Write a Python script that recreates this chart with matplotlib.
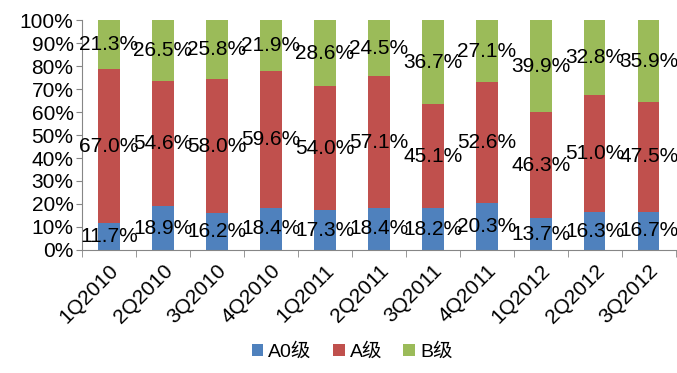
import numpy as np
import matplotlib.pyplot as plt

plt.rcParams['font.family'] = ['Liberation Sans', 'Noto Sans CJK SC', 'DejaVu Sans']

quarters = ['1Q2010', '2Q2010', '3Q2010', '4Q2010', '1Q2011', '2Q2011',
            '3Q2011', '4Q2011', '1Q2012', '2Q2012', '3Q2012']
a0 = [11.7, 18.9, 16.2, 18.4, 17.3, 18.4, 18.2, 20.3, 13.7, 16.3, 16.7]
a = [67.0, 54.6, 58.0, 59.6, 54.0, 57.1, 45.1, 52.6, 46.3, 51.0, 47.5]
b = [21.3, 26.5, 25.8, 21.9, 28.6, 24.5, 36.7, 27.1, 39.9, 32.8, 35.9]
series_names = ['A0级', 'A级', 'B级']
colors = ['#4F81BD', '#C0504D', '#9BBB59']

fig = plt.figure(figsize=(6.77, 3.73), dpi=100)
ax = fig.add_axes([0.121, 0.330, 0.877, 0.616])

x = np.arange(len(quarters))
bottom = np.zeros(len(quarters))
handles = []
for vals, name, col in zip([a0, a, b], series_names, colors):
    vals = np.array(vals)
    h = ax.bar(x, vals, 0.4, bottom=bottom, color=col, label=name)
    handles.append(h)
    for xi, v, bt in zip(x, vals, bottom):
        ax.text(xi, bt + v / 2, f'{v:.1f}%', ha='center', va='center', fontsize=15)
    bottom = bottom + vals

ax.set_xlim(-0.5, len(quarters) - 0.5)
ax.set_ylim(0, 100)
ax.set_yticks(np.arange(0, 101, 10))
ax.set_yticklabels([f'{v}%' for v in range(0, 101, 10)], fontsize=15)

ax.set_xticks(x)
ax.set_xticklabels(quarters, rotation=45, ha='right', rotation_mode='anchor', fontsize=15)
ax.tick_params(axis='x', length=0, pad=8)
ax.set_xticks(np.arange(-0.5, len(quarters)), minor=True)
ax.tick_params(axis='x', which='minor', length=5, color='#868686')
ax.tick_params(axis='y', length=4, color='#868686', pad=2)

for s in ['top', 'right']:
    ax.spines[s].set_visible(False)
for s in ['left', 'bottom']:
    ax.spines[s].set_color('#868686')

fig.legend(handles=handles, labels=series_names, loc='center', bbox_to_anchor=(0.52, 0.056),
           ncol=3, frameon=False, fontsize=14, handlelength=0.6, handleheight=0.6,
           handletextpad=0.25, columnspacing=1.1)

fig.savefig('out.png', dpi=100)
